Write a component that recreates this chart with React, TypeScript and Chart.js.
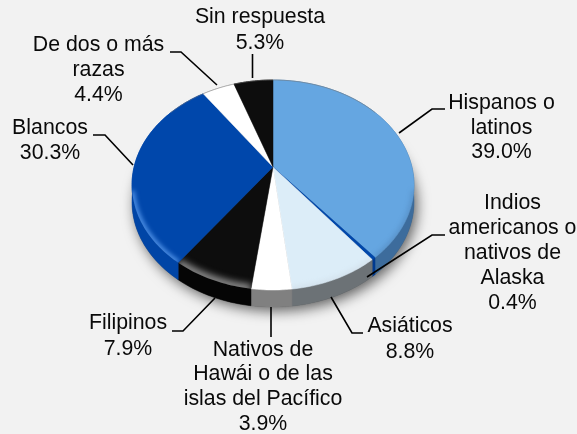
import React, { useEffect, useRef } from "react";
import { Chart, registerables } from "chart.js";

Chart.register(...registerables);

const categories = [
  "Hispanos o latinos",
  "Indios americanos o nativos de Alaska",
  "Asiáticos",
  "Nativos de Hawái o de las islas del Pacífico",
  "Filipinos",
  "Blancos",
  "De dos o más razas",
  "Sin respuesta",
];
const shares = [39.0, 0.4, 8.8, 3.9, 7.9, 30.3, 4.4, 5.3];
const shareLabels = ["39.0%", "0.4%", "8.8%", "3.9%", "7.9%", "30.3%", "4.4%", "5.3%"];
const labelLines = [
  ["Hispanos o", "latinos"],
  ["Indios", "americanos o", "nativos de", "Alaska"],
  ["Asiáticos"],
  ["Nativos de", "Hawái o de las", "islas del Pacífico"],
  ["Filipinos"],
  ["Blancos"],
  ["De dos o más", "razas"],
  ["Sin respuesta"],
];
const topColors = ["#65a6e1", "#0047ab", "#dcedf8", "#ffffff", "#0d0d0d", "#0047ab", "#ffffff", "#0d0d0d"];
const sideColors = ["#3d6c9c", "#003a90", "#6c7276", "#808080", "#050505", "#0045a6", "#808080", "#050505"];

// Layout of the text blocks: centre x, centre y of first line
const labelAnchors = [
  [501.5, 103], [512.5, 203], [410, 326], [263, 350],
  [128, 323], [50, 128], [98.5, 45], [260, 17],
];
const labelLineGaps = [24.7, 25, 26, 24.6, 26, 25, 25, 26];
const leaderPaths = [
  [[445, 109], [432, 109], [399, 133]],
  [[445, 235], [432, 235], [367, 277]],
  [[363, 333], [352, 333], [331, 297]],
  [[271, 307], [271, 337]],
  [[172, 331], [183, 331], [215, 298]],
  [[93, 135], [105, 135], [133, 165]],
  [[170, 52], [181, 52], [217, 85]],
  [[252.5, 54], [252.5, 78]],
];

const CX = 273;
const CY = 185;
const RX = 141;
const RY = 105;
const PERSPECTIVE = -18 / 105;
const DEPTH = 17;
const BG = "#f2f2f2";

// Projects an angle of the flat pie on to the tilted disc (a true perspective view)
function project(angle: number, dy = 0): [number, number] {
  const X = Math.cos(angle);
  const Y = Math.sin(angle);
  const w = 1 + PERSPECTIVE * Y;
  const a = RX * Math.sqrt(1 - PERSPECTIVE * PERSPECTIVE);
  return [CX + (a * X) / w, CY + (RY * Y - 18) / w + dy];
}

function arcPoints(start: number, end: number, dy = 0) {
  const n = Math.max(3, Math.ceil(Math.abs(end - start) / 0.02));
  const out: [number, number][] = [];
  for (let i = 0; i <= n; i++) out.push(project(start + ((end - start) * i) / n, dy));
  return out;
}

function trace(ctx: CanvasRenderingContext2D, pts: [number, number][]) {
  ctx.beginPath();
  pts.forEach((p, i) => (i ? ctx.lineTo(p[0], p[1]) : ctx.moveTo(p[0], p[1])));
}

const tiltedPie = {
  id: "tiltedPie",
  beforeDraw(chart: Chart) {
    const ctx = chart.ctx;
    ctx.save();
    ctx.fillStyle = BG;
    ctx.fillRect(0, 0, chart.width, chart.height);
    ctx.restore();
  },
  beforeDatasetsDraw(chart: Chart) {
    const ctx = chart.ctx;
    const arcs = chart.getDatasetMeta(0).data as any[];
    const colors = chart.data.datasets[0].backgroundColor as string[];
    const apex: [number, number] = [CX, CY - 18];

    // Soft drop shadow under the disc
    ctx.save();
    ctx.shadowColor = "rgba(0,0,0,0.6)";
    ctx.shadowBlur = 13;
    ctx.shadowOffsetX = 3;
    ctx.shadowOffsetY = 4;
    ctx.fillStyle = "#555";
    trace(ctx, arcPoints(0, Math.PI * 2, DEPTH));
    ctx.closePath();
    ctx.fill();
    ctx.restore();

    // Side wall
    arcs.forEach((arc, i) => {
      const top = arcPoints(arc.startAngle, arc.endAngle);
      const low = arcPoints(arc.endAngle, arc.startAngle, DEPTH);
      ctx.save();
      trace(ctx, [...top, ...low]);
      ctx.closePath();
      ctx.fillStyle = sideColors[i];
      ctx.strokeStyle = sideColors[i];
      ctx.lineWidth = 0.5;
      ctx.fill();
      ctx.stroke();
      ctx.restore();
    });

    // Top faces
    arcs.forEach((arc, i) => {
      const rim = arcPoints(arc.startAngle, arc.endAngle);
      ctx.save();
      trace(ctx, [apex, ...rim]);
      ctx.closePath();
      ctx.fillStyle = colors[i];
      ctx.strokeStyle = colors[i];
      ctx.lineWidth = 0.5;
      ctx.fill();
      ctx.stroke();
      ctx.clip();
      // Bevel glow along the rim at the front of the disc
      const glow = ["rgba(60,100,150,0.35)", "", "rgba(200,210,220,0.5)", "", "rgba(170,170,170,0.9)", "rgba(110,175,255,0.95)", "", ""][i];
      if (glow) {
        ctx.filter = i === 4 ? "blur(3.5px)" : "blur(2.5px)";
        trace(ctx, rim.filter((p) => p[1] > 190));
        ctx.strokeStyle = glow;
        ctx.lineWidth = i === 4 ? 8 : 4;
        ctx.stroke();
      }
      ctx.restore();
    });

    // Fine grey line on the rear rim
    ctx.save();
    trace(ctx, arcPoints(Math.PI * 1.2, Math.PI * 1.8));
    ctx.strokeStyle = "rgba(120,120,120,0.7)";
    ctx.lineWidth = 0.7;
    ctx.stroke();
    ctx.restore();

    // Leader lines
    ctx.save();
    ctx.strokeStyle = "#000";
    ctx.lineWidth = 1.6;
    leaderPaths.forEach((path) => {
      trace(ctx, path as [number, number][]);
      ctx.stroke();
    });
    ctx.restore();

    // Labels
    ctx.save();
    ctx.fillStyle = "#0a0a0a";
    ctx.font = '21.3px "Liberation Sans", Arial, sans-serif';
    ctx.textAlign = "center";
    ctx.textBaseline = "middle";
    labelLines.forEach((lines, i) => {
      const [x, y] = labelAnchors[i];
      [...lines, shareLabels[i]].forEach((line, j) => {
        ctx.fillText(line, x, y + j * labelLineGaps[i]);
      });
    });
    ctx.restore();
    return false;
  },
};

export default function App() {
  const ref = useRef<HTMLCanvasElement>(null);
  useEffect(() => {
    const chart = new Chart(ref.current!, {
      type: "pie",
      data: {
        labels: categories,
        datasets: [{ data: shares, backgroundColor: topColors, borderWidth: 0 }],
      },
      options: {
        animation: false,
        responsive: false,
        layout: { padding: 0 },
        plugins: { legend: { display: false }, tooltip: { enabled: false } },
      },
      plugins: [tiltedPie],
    });
    return () => chart.destroy();
  }, []);
  return (
    <div style={{ position: "fixed", inset: 0, background: BG }}>
      <canvas ref={ref} width={577} height={434} style={{ display: "block" }} />
    </div>
  );
}
